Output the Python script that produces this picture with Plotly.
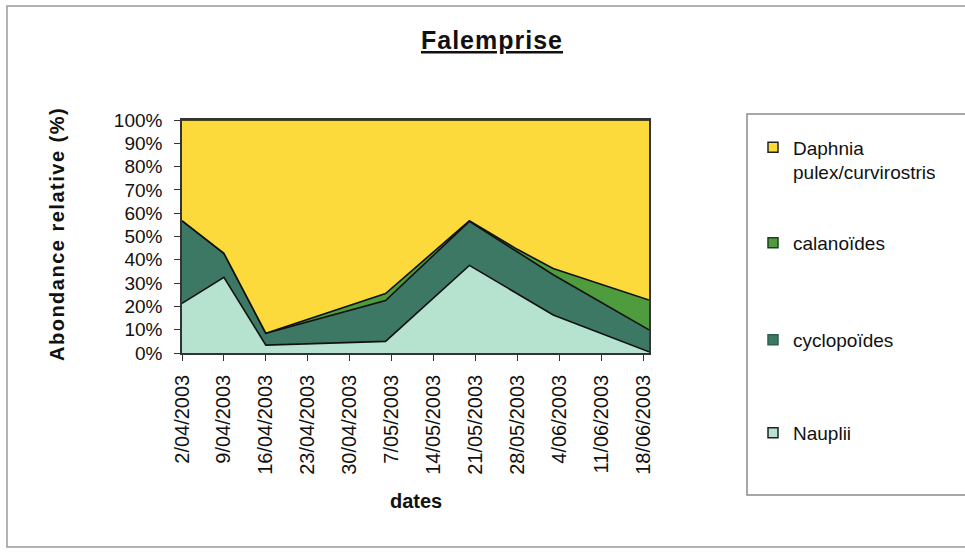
import plotly.graph_objects as go

# ---- data ----
sample_dates = ['2003-04-02', '2003-04-09', '2003-04-16', '2003-05-06',
                '2003-05-20', '2003-05-28', '2003-06-03', '2003-06-19']
nauplii = [21.3, 32.5, 3.4, 5.0, 37.6, 25.5, 16.3, 0.5]
cyclopoides = [35.5, 10.3, 5.1, 17.5, 18.9, 18.0, 17.3, 9.4]
calanoides = [0.0, 0.0, 0.0, 3.0, 0.3, 1.0, 2.7, 12.8]
daphnia = [43.2, 57.2, 91.5, 74.5, 43.2, 55.5, 63.7, 77.3]

series_names = ['Nauplii', 'cyclopoïdes', 'calanoïdes', 'Daphnia<br>pulex/curvirostris']
series_colors = ['#B5E3D0', '#3C7864', '#4F9C3F', '#FCDA3B']

tick_dates = ['2003-04-02', '2003-04-09', '2003-04-16', '2003-04-23', '2003-04-30',
              '2003-05-07', '2003-05-14', '2003-05-21', '2003-05-28', '2003-06-04',
              '2003-06-11', '2003-06-18']
tick_labels = ['2/04/2003', '9/04/2003', '16/04/2003', '23/04/2003', '30/04/2003',
               '7/05/2003', '14/05/2003', '21/05/2003', '28/05/2003', '4/06/2003',
               '11/06/2003', '18/06/2003']
y_ticks = [0, 10, 20, 30, 40, 50, 60, 70, 80, 90, 100]

FONT = 'Liberation Sans, Arial, sans-serif'

# plot-area geometry in pixels (for converting to paper coords)
W, H = 965, 552
L, R, T, B = 182, 649, 120, 353


def px_x(p):
    return (p - L) / (R - L)


def px_y(p):
    return (B - p) / (B - T)


fig = go.Figure()
values = [nauplii, cyclopoides, calanoides, daphnia]
for name, vals, col in zip(series_names, values, series_colors):
    fig.add_trace(go.Scatter(
        x=sample_dates, y=vals, name=name, mode='lines',
        stackgroup='one', groupnorm='percent',
        line=dict(color='#111111', width=1.6),
        fillcolor=col, showlegend=False, hoverinfo='x+y+name'))

# legend entries (square swatches), one legend each so the spacing matches
legend_ids = ['legend4', 'legend3', 'legend2', 'legend']
legend_centers = [433, 340, 243, 160]
border_cols = ['#222222', '#2f5f4f', '#1f3f1f', '#222222']
for name, col, lid, bc in zip(series_names, series_colors, legend_ids, border_cols):
    fig.add_trace(go.Scatter(
        x=[None], y=[None], mode='markers', name=name, legend=lid,
        marker=dict(symbol='square', size=10, color=col,
                    line=dict(color=bc, width=1.5)),
        showlegend=True))

legend_common = dict(
    xref='container', yref='container', x=753 / W, xanchor='left',
    yanchor='middle', bgcolor='rgba(0,0,0,0)', borderwidth=0,
    font=dict(family=FONT, size=19, color='#111111'), valign='top',
    itemwidth=30)
layout_legends = {}
for lid, cy in zip(legend_ids, legend_centers):
    layout_legends[lid] = dict(legend_common, y=1 - cy / H)

fig.update_layout(
    width=W, height=H,
    margin=dict(l=L, r=W - R, t=T, b=H - B, autoexpand=False),
    paper_bgcolor='white', plot_bgcolor='white',
    font=dict(family=FONT, color='#111111'),
    showlegend=True,
    **layout_legends,
    xaxis=dict(
        type='date', range=['2003-04-02', '2003-06-19'],
        tickmode='array', tickvals=tick_dates, ticktext=tick_labels,
        tickangle=-90, tickfont=dict(family=FONT, size=20, color='#111111'),
        ticks='outside', ticklen=6, tickcolor='#333333', ticklabelstandoff=6,
        showline=True, linecolor='#333333', linewidth=1.5, mirror=True,
        showgrid=False, zeroline=False),
    yaxis=dict(
        range=[0, 100], tickmode='array', tickvals=y_ticks,
        ticktext=[f'{v}%' for v in y_ticks],
        tickfont=dict(family=FONT, size=19, color='#111111'),
        ticks='outside', ticklen=6, tickcolor='#333333', ticklabelstandoff=8,
        showline=True, linecolor='#333333', linewidth=1.5, mirror=True,
        showgrid=False, zeroline=False),
    annotations=[
        dict(text='<span style="letter-spacing:1px"><b><u>Falemprise</u></b></span>',
             xref='paper', yref='paper',
             x=px_x(492), y=px_y(40), xanchor='center', yanchor='middle',
             showarrow=False, font=dict(family=FONT, size=25, color='#111111')),
        dict(text='<span style="letter-spacing:1.5px"><b>Abondance relative (%)</b></span>',
             xref='paper', yref='paper',
             x=px_x(57), y=px_y(234), xanchor='center', yanchor='middle',
             textangle=-90, showarrow=False,
             font=dict(family=FONT, size=20, color='#111111')),
        dict(text='<b>dates</b>', xref='paper', yref='paper',
             x=px_x(416), y=px_y(501), xanchor='center', yanchor='middle',
             showarrow=False, font=dict(family=FONT, size=20, color='#111111')),
    ],
    shapes=[
        dict(type='rect', xref='paper', yref='paper', layer='below',
             x0=px_x(7), x1=px_x(975), y0=px_y(547), y1=px_y(6),
             line=dict(color='#9a9a9a', width=1.5), fillcolor='rgba(0,0,0,0)'),
        dict(type='rect', xref='paper', yref='paper', layer='below',
             x0=px_x(747), x1=px_x(975), y0=px_y(495), y1=px_y(114),
             line=dict(color='#8a8a8a', width=1.5), fillcolor='rgba(0,0,0,0)'),
    ],
)

fig.write_html('out.html', config={'displayModeBar': False},
               post_script="document.body.style.margin='0px';")
